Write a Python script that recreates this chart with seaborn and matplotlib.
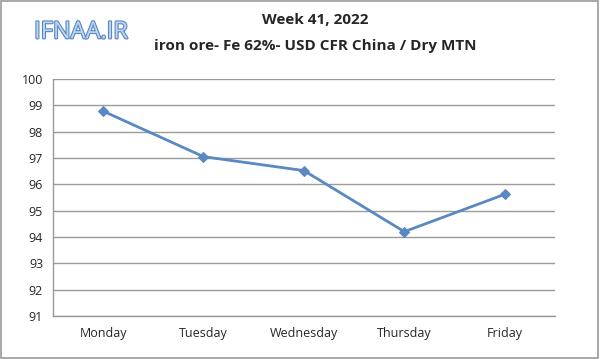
import numpy as np
import pandas as pd
import matplotlib
matplotlib.use("Agg")
import matplotlib.pyplot as plt
import seaborn as sns
from matplotlib.patches import Rectangle
import matplotlib.patheffects as pe

days = ["Monday", "Tuesday", "Wednesday", "Thursday", "Friday"]
prices = [98.78, 97.05, 96.52, 94.2, 95.62]
y_ticks = [91, 92, 93, 94, 95, 96, 97, 98, 99, 100]

df = pd.DataFrame({"day": days, "price": prices})

sns.set_style("white")
plt.rcParams['font.family'] = ['Open Sans', 'DejaVu Sans']

fig = plt.figure(figsize=(6, 3.59), dpi=100)
ax = fig.add_axes([0.088, 0.12, 0.837, 0.66])

line_color = "#5889c2"
sns.lineplot(data=df, x="day", y="price", ax=ax, color=line_color,
             marker="D", markersize=5, linewidth=2, markeredgecolor=line_color,
             sort=False)

ax.set_ylim(91, 100)
ax.set_yticks(y_ticks)
ax.set_xlim(-0.5, len(days) - 0.5)
ax.set_xticks(range(len(days)))
ax.set_xticklabels(days, fontsize=9)
ax.set_xticks(np.arange(-0.5, len(days)), minor=True)
ax.tick_params(axis="x", which="major", length=0, pad=8)
ax.tick_params(axis="x", which="minor", length=4, color="#999999", direction="out")
ax.tick_params(axis="y", length=4, color="#999999", direction="out", labelsize=9, pad=3)
ax.set_xlabel("")
ax.set_ylabel("")
ax.grid(axis="y", color="#9a9a9a", linewidth=1)
ax.set_axisbelow(True)
for s in ["top", "right"]:
    ax.spines[s].set_visible(False)
for s in ["left", "bottom"]:
    ax.spines[s].set_color("#9a9a9a")
    ax.spines[s].set_linewidth(1)

# titles
fig.text(0.525, 0.945, "Week 41, 2022", ha="center", va="center",
         fontsize=11, fontweight="bold")
fig.text(0.525, 0.873, "iron ore- Fe 62%- USD CFR China / Dry MTN", ha="center",
         va="center", fontsize=11, fontweight="bold")

# watermark logo
fig.text(0.135, 0.91, "IFNAA.IR", ha="center", va="center", fontsize=17,
         color="#b7d6f2",
         path_effects=[pe.withStroke(linewidth=1.6, foreground="#5d86c0")])

# figure border
fig.patches.append(Rectangle((0.002, 0.003), 0.995, 0.994, transform=fig.transFigure,
                             fill=False, edgecolor="#9a9a9a", linewidth=1.2))

fig.savefig("out.png", dpi=100)
